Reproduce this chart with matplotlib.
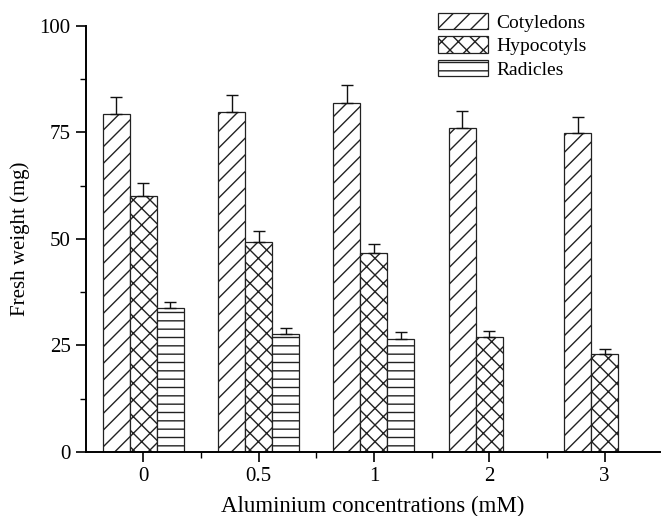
import numpy as np
import matplotlib.pyplot as plt

plt.rcParams['font.family'] = ['Liberation Serif', 'DejaVu Serif']
plt.rcParams['hatch.linewidth'] = 1.0

conc = ["0", "0.5", "1", "2", "3"]
cotyledons = [79.3, 79.8, 82.0, 76.1, 74.9]
cotyledons_err = [4.0, 4.0, 4.2, 3.9, 3.6]
hypocotyls = [60.0, 49.2, 46.6, 26.9, 22.9]
hypocotyls_err = [3.2, 2.7, 2.3, 1.4, 1.2]
radicles = [33.7, 27.8, 26.6]
radicles_err = [1.6, 1.4, 1.5]

fig = plt.figure(figsize=(6.62, 5.16), dpi=100)
ax = fig.add_axes([0.130, 0.124, 0.867, 0.826])

x = np.arange(len(conc))
w = 0.234

series = [
    ("Cotyledons", cotyledons, cotyledons_err, "//", -w),
    ("Hypocotyls", hypocotyls, hypocotyls_err, "xx", 0.0),
    ("Radicles", radicles, radicles_err, "--", w),
]

for name, vals, errs, hatch, off in series:
    xs = x[:len(vals)] + off
    ax.bar(xs, vals, width=w, color="white", edgecolor="#222222",
           linewidth=0.9, hatch=hatch, label=name, zorder=2)
    ax.errorbar(xs, vals, yerr=[np.zeros(len(vals)), errs], fmt="none",
                ecolor="#111111", elinewidth=1.0, capsize=4, capthick=1.0, zorder=3)

ax.set_xlim(-0.495, 4.48)
ax.set_ylim(0, 100)
ax.set_yticks([0, 25, 50, 75, 100])
ax.set_yticks([12.5, 37.5, 62.5, 87.5], minor=True)
ax.set_xticks(x)
ax.set_xticklabels(conc)
ax.set_xticks(x[:-1] + 0.5, minor=True)

for s in ["top", "right"]:
    ax.spines[s].set_visible(False)
for s in ["left", "bottom"]:
    ax.spines[s].set_linewidth(1.4)

ax.tick_params(which="major", direction="out", length=7, width=1.2, labelsize=15, pad=4)
ax.tick_params(which="minor", direction="out", length=4.5, width=1.0)

ax.set_xlabel("Aluminium concentrations (mM)", fontsize=16.5)
ax.set_ylabel("Fresh weight (mg)", fontsize=15)
ax.yaxis.set_label_coords(-0.098, 0.5)
ax.xaxis.set_label_coords(0.5, -0.104)

ax.legend(loc="upper left", bbox_to_anchor=(0.613, 1.030), frameon=False,
          fontsize=14, handlelength=2.6, handleheight=0.9, labelspacing=0.24,
          handletextpad=0.4, borderaxespad=0, borderpad=0)

fig.savefig("out.png", dpi=100)
